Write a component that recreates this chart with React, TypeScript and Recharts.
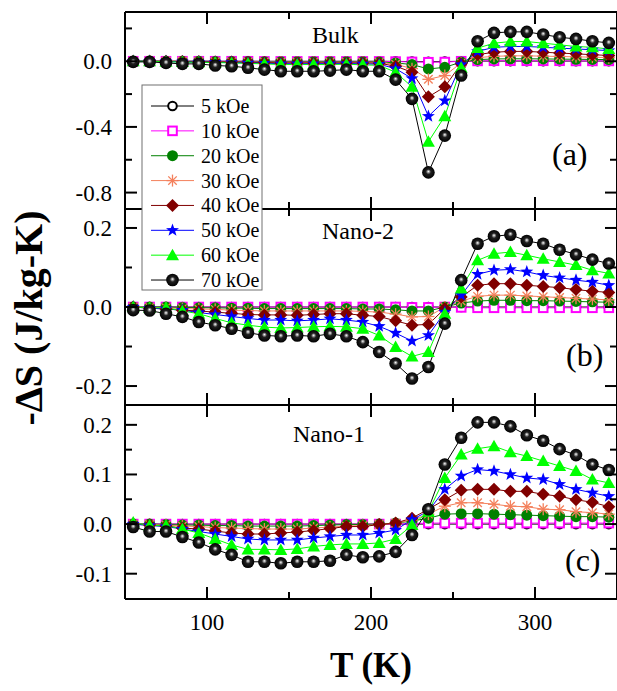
import React from "react";
import { LineChart, Line, XAxis, YAxis } from "recharts";

// temperature grid (K)
const temps = [55, 65, 75, 85, 95, 105, 115, 125, 135, 145, 155, 165, 175, 185, 195, 205, 215, 225, 235, 245, 255, 265, 275, 285, 295, 305, 315, 325, 335, 345];

const fieldLabels = ["5 kOe", "10 kOe", "20 kOe", "30 kOe", "40 kOe", "50 kOe", "60 kOe", "70 kOe"];
const seriesKeys = ["h5", "h10", "h20", "h30", "h40", "h50", "h60", "h70"];
const seriesColors = ["#000000", "#ff00ff", "#008000", "#f4805c", "#800000", "#0000ff", "#00ff00", "#000000"];
const markerKinds = ["open", "square", "dot", "aster", "diamond", "star", "tri", "ball"];

// (a) Bulk
const a5 = [0, 0, 0, 0, 0, 0, 0, 0, 0, 0, 0, 0, 0, 0, 0, 0, -0.001, -0.002, -0.003, -0.002, 0, 0.001, 0.001, 0.001, 0.001, 0.001, 0.001, 0.001, 0.001, 0.001];
const a10 = [0, 0, 0, 0, 0, 0, 0, 0, -0.001, -0.001, -0.001, -0.001, -0.001, -0.001, -0.001, -0.001, -0.002, -0.004, -0.006, -0.005, 0, 0.002, 0.003, 0.003, 0.003, 0.003, 0.003, 0.002, 0.002, 0.002];
const a20 = [0, 0, 0, 0, 0, -0.001, -0.002, -0.002, -0.003, -0.003, -0.003, -0.003, -0.003, -0.003, -0.003, -0.004, -0.01, -0.02, -0.047, -0.037, -0.005, 0.01, 0.014, 0.015, 0.015, 0.014, 0.013, 0.012, 0.011, 0.01];
const a30 = [0, 0, 0, 0, -0.002, -0.003, -0.004, -0.004, -0.005, -0.006, -0.006, -0.006, -0.006, -0.006, -0.006, -0.007, -0.018, -0.045, -0.11, -0.087, -0.01, 0.022, 0.03, 0.033, 0.033, 0.031, 0.029, 0.027, 0.025, 0.022];
const a40 = [0, 0, 0, -0.002, -0.003, -0.004, -0.005, -0.006, -0.008, -0.01, -0.01, -0.01, -0.01, -0.01, -0.01, -0.012, -0.03, -0.067, -0.217, -0.156, -0.015, 0.04, 0.055, 0.06, 0.06, 0.055, 0.05, 0.045, 0.04, 0.035];
const a50 = [0, 0, -0.002, -0.004, -0.005, -0.006, -0.008, -0.01, -0.012, -0.015, -0.015, -0.015, -0.015, -0.014, -0.016, -0.018, -0.045, -0.105, -0.335, -0.24, -0.02, 0.06, 0.085, 0.09, 0.09, 0.085, 0.08, 0.075, 0.07, 0.065];
const a60 = [0, 0, -0.003, -0.005, -0.006, -0.008, -0.01, -0.013, -0.016, -0.02, -0.02, -0.02, -0.02, -0.018, -0.022, -0.025, -0.067, -0.156, -0.49, -0.335, -0.04, 0.08, 0.11, 0.12, 0.12, 0.11, 0.1, 0.09, 0.085, 0.075];
const a70 = [-0.004, -0.004, -0.01, -0.016, -0.016, -0.026, -0.03, -0.04, -0.051, -0.061, -0.061, -0.061, -0.057, -0.051, -0.061, -0.061, -0.112, -0.229, -0.677, -0.453, -0.087, 0.122, 0.173, 0.179, 0.179, 0.163, 0.146, 0.136, 0.122, 0.112];

// (b) Nano-2
const b5 = [0, 0, 0, 0, 0, 0, 0, 0, 0, 0, 0, 0, 0, 0, 0, 0, 0, 0, 0, 0, 0, 0, 0, 0, 0, 0, 0, 0, 0, 0];
const b10 = [0, 0, 0, 0, 0, 0, 0, 0, 0, 0, 0, 0, 0, 0, 0, 0, 0, -0.001, -0.001, 0, -0.001, -0.002, -0.002, -0.002, -0.002, -0.002, -0.002, -0.002, -0.002, -0.002];
const b20 = [0, 0, 0, -0.001, -0.002, -0.002, -0.003, -0.003, -0.004, -0.004, -0.004, -0.004, -0.004, -0.004, -0.005, -0.005, -0.007, -0.01, -0.01, 0, 0.01, 0.015, 0.017, 0.017, 0.016, 0.016, 0.015, 0.014, 0.013, 0.012];
const b30 = [0, -0.001, -0.002, -0.004, -0.005, -0.006, -0.008, -0.009, -0.01, -0.01, -0.01, -0.01, -0.01, -0.01, -0.011, -0.013, -0.018, -0.025, -0.024, 0, 0.015, 0.027, 0.03, 0.03, 0.028, 0.026, 0.024, 0.022, 0.02, 0.018];
const b40 = [0, -0.003, -0.005, -0.008, -0.01, -0.013, -0.016, -0.019, -0.02, -0.02, -0.021, -0.019, -0.017, -0.017, -0.021, -0.024, -0.035, -0.046, -0.044, -0.004, 0.025, 0.055, 0.059, 0.059, 0.055, 0.052, 0.049, 0.044, 0.04, 0.037];
const b50 = [0, -0.003, -0.005, -0.008, -0.014, -0.019, -0.024, -0.029, -0.033, -0.033, -0.035, -0.033, -0.03, -0.033, -0.038, -0.049, -0.066, -0.086, -0.072, -0.013, 0.03, 0.083, 0.093, 0.095, 0.089, 0.08, 0.074, 0.068, 0.063, 0.055];
const b60 = [0, -0.002, -0.002, -0.01, -0.017, -0.029, -0.04, -0.046, -0.051, -0.053, -0.052, -0.05, -0.049, -0.05, -0.055, -0.072, -0.101, -0.125, -0.114, -0.017, 0.047, 0.118, 0.135, 0.139, 0.131, 0.122, 0.114, 0.106, 0.093, 0.085];
const b70 = [-0.008, -0.009, -0.017, -0.025, -0.038, -0.046, -0.055, -0.065, -0.072, -0.074, -0.072, -0.074, -0.068, -0.074, -0.089, -0.114, -0.143, -0.181, -0.152, -0.042, 0.068, 0.16, 0.179, 0.183, 0.167, 0.16, 0.145, 0.133, 0.12, 0.11];

// (c) Nano-1
const c5 = [0, 0, 0, 0, 0, 0, 0, 0, 0, 0, 0, 0, 0, 0, 0, 0, 0, 0, 0, 0, 0, 0, 0, 0, 0, 0, 0, 0, 0, 0];
const c10 = [0, 0, 0, 0, 0, 0, 0, 0, 0, 0, 0, 0, 0, 0, 0, 0, 0, 0.001, 0.002, 0.002, 0.002, 0.002, 0.002, 0.002, 0.002, 0.002, 0.002, 0.002, 0.002, 0.002];
const c20 = [0, 0, -0.001, -0.002, -0.002, -0.003, -0.003, -0.004, -0.004, -0.004, -0.004, -0.003, -0.002, -0.001, -0.001, 0, 0.002, 0.006, 0.012, 0.02, 0.021, 0.021, 0.02, 0.019, 0.018, 0.017, 0.016, 0.015, 0.015, 0.014];
const c30 = [0, -0.001, -0.002, -0.004, -0.005, -0.007, -0.008, -0.009, -0.01, -0.01, -0.01, -0.008, -0.006, -0.004, -0.003, -0.001, 0.002, 0.008, 0.02, 0.036, 0.043, 0.043, 0.04, 0.036, 0.035, 0.03, 0.029, 0.025, 0.023, 0.02];
const c40 = [0, -0.002, -0.004, -0.008, -0.01, -0.014, -0.018, -0.02, -0.02, -0.018, -0.016, -0.013, -0.009, -0.005, -0.005, -0.001, 0.002, 0.012, 0.03, 0.049, 0.068, 0.07, 0.07, 0.066, 0.066, 0.06, 0.056, 0.049, 0.044, 0.035];
const c50 = [0, -0.003, -0.005, -0.01, -0.015, -0.02, -0.025, -0.03, -0.032, -0.032, -0.032, -0.028, -0.025, -0.022, -0.022, -0.018, -0.012, 0.009, 0.026, 0.07, 0.097, 0.11, 0.107, 0.1, 0.093, 0.09, 0.08, 0.07, 0.063, 0.056];
const c60 = [0.003, -0.003, -0.003, -0.01, -0.018, -0.03, -0.042, -0.051, -0.051, -0.052, -0.05, -0.045, -0.042, -0.04, -0.04, -0.038, -0.03, -0.002, 0.025, 0.093, 0.14, 0.152, 0.157, 0.145, 0.137, 0.127, 0.117, 0.107, 0.09, 0.083];
const c70 = [-0.006, -0.015, -0.015, -0.026, -0.037, -0.051, -0.062, -0.076, -0.076, -0.079, -0.076, -0.076, -0.074, -0.062, -0.067, -0.065, -0.056, -0.022, 0.03, 0.12, 0.174, 0.205, 0.205, 0.197, 0.179, 0.168, 0.151, 0.139, 0.12, 0.109];

const xTicks = [100, 150, 200, 250, 300];
const xMajors = [100, 200, 300];

const serif = "Liberation Serif";

function buildRows(cols: number[][]) {
  return temps.map((t, i) => {
    const r: any = { T: t };
    seriesKeys.forEach((k, j) => (r[k] = cols[j][i]));
    return r;
  });
}

const panels = [
  { rows: buildRows([a5, a10, a20, a30, a40, a50, a60, a70]), domain: [-0.9, 0.3], ticks: [-0.8, -0.6, -0.4, -0.2, 0, 0.2], majors: [-0.8, -0.4, 0], top: 12, bottom: 209, showX: false },
  { rows: buildRows([b5, b10, b20, b30, b40, b50, b60, b70]), domain: [-0.248, 0.248], ticks: [-0.2, -0.1, 0, 0.1, 0.2], majors: [-0.2, 0, 0.2], top: 209, bottom: 405, showX: false },
  { rows: buildRows([c5, c10, c20, c30, c40, c50, c60, c70]), domain: [-0.151, 0.24], ticks: [-0.1, -0.05, 0, 0.05, 0.1, 0.15, 0.2], majors: [-0.1, 0, 0.1, 0.2], top: 405, bottom: 599, showX: true },
];

function Marker({ kind, cx, cy, color }: { kind: string; cx: number; cy: number; color: string }) {
  switch (kind) {
    case "open":
      return <circle cx={cx} cy={cy} r={4.3} fill="#fff" stroke={color} strokeWidth={2} />;
    case "square":
      return <rect x={cx - 4.3} y={cy - 4.3} width={8.6} height={8.6} fill="#fff" stroke={color} strokeWidth={2} />;
    case "dot":
      return <circle cx={cx} cy={cy} r={5.5} fill={color} />;
    case "aster": {
      const r = 6;
      const d = r * 0.707;
      return (
        <g stroke={color} strokeWidth={1.3}>
          <line x1={cx - r} y1={cy} x2={cx + r} y2={cy} />
          <line x1={cx} y1={cy - r} x2={cx} y2={cy + r} />
          <line x1={cx - d} y1={cy - d} x2={cx + d} y2={cy + d} />
          <line x1={cx - d} y1={cy + d} x2={cx + d} y2={cy - d} />
        </g>
      );
    }
    case "diamond":
      return <polygon points={`${cx},${cy - 6.5} ${cx + 6.5},${cy} ${cx},${cy + 6.5} ${cx - 6.5},${cy}`} fill={color} />;
    case "star": {
      const pts: string[] = [];
      for (let k = 0; k < 10; k++) {
        const a = ((-90 + 36 * k) * Math.PI) / 180;
        const rr = k % 2 === 0 ? 6.8 : 2.8;
        pts.push(`${cx + rr * Math.cos(a)},${cy + rr * Math.sin(a)}`);
      }
      return <polygon points={pts.join(" ")} fill={color} />;
    }
    case "tri":
      return <polygon points={`${cx},${cy - 6.5} ${cx + 6.5},${cy + 5} ${cx - 6.5},${cy + 5}`} fill={color} />;
    case "ball":
      return <circle cx={cx} cy={cy} r={6.3} fill="url(#ballFill)" />;
    default:
      return null;
  }
}

function Tick(props: any) {
  const { x, y, payload, side, majors, label, fmt } = props;
  const v = payload.value;
  const major = majors.some((m: number) => Math.abs(m - v) < 1e-9);
  const len = major ? 12 : 7;
  let x2 = x;
  let y2 = y;
  if (side === "left") x2 = x + len;
  else if (side === "right") x2 = x - len;
  else if (side === "bottom") y2 = y - len;
  else y2 = y + len;
  return (
    <g>
      <line x1={x} y1={y} x2={x2} y2={y2} stroke="#000" strokeWidth={2} />
      {label && major && side === "left" && (
        <text x={x - 13} y={y + 8} textAnchor="end" fontFamily={serif} fontSize={23} fill="#000">
          {fmt(v)}
        </text>
      )}
      {label && major && side === "bottom" && (
        <text x={x} y={y + 31} textAnchor="middle" fontFamily={serif} fontSize={23} fill="#000">
          {fmt(v)}
        </text>
      )}
    </g>
  );
}

const axisStyle = { stroke: "#000", strokeWidth: 2 };

function Panel({ p }: { p: (typeof panels)[number] }) {
  return (
    <div style={{ position: "absolute", left: 0, top: 0 }}>
      <LineChart width={617} height={691} data={p.rows} margin={{ top: p.top - 1, bottom: 691 - p.bottom - 1, left: 124, right: -1 }}>
        <XAxis xAxisId="b" dataKey="T" type="number" domain={[50, 350]} allowDataOverflow ticks={xTicks} interval={0} height={1} tickSize={0} tickMargin={0} axisLine={axisStyle} tickLine={false}
          tick={<Tick side="bottom" majors={xMajors} label={p.showX} fmt={(v: number) => String(v)} />} />
        <XAxis xAxisId="t" orientation="top" dataKey="T" type="number" domain={[50, 350]} allowDataOverflow ticks={xTicks} interval={0} height={1} tickSize={0} tickMargin={0} axisLine={axisStyle} tickLine={false}
          tick={<Tick side="top" majors={xMajors} label={false} />} />
        <YAxis yAxisId="l" type="number" domain={p.domain} allowDataOverflow ticks={p.ticks} interval={0} width={1} tickSize={0} tickMargin={0} axisLine={axisStyle} tickLine={false}
          tick={<Tick side="left" majors={p.majors} label fmt={(v: number) => v.toFixed(1)} />} />
        <YAxis yAxisId="r" orientation="right" dataKey="h70" type="number" domain={p.domain} allowDataOverflow ticks={p.ticks} interval={0} width={1} tickSize={0} tickMargin={0} axisLine={axisStyle} tickLine={false}
          tick={<Tick side="right" majors={p.majors} label={false} />} />
        {seriesKeys.map((k, j) => (
          <Line key={k} xAxisId="b" yAxisId="l" dataKey={k} stroke={seriesColors[j]} strokeWidth={1} isAnimationActive={false}
            dot={(d: any) => <Marker key={`${k}-${d.index}`} kind={markerKinds[j]} cx={d.cx} cy={d.cy} color={seriesColors[j]} />}
            activeDot={false} />
        ))}
      </LineChart>
    </div>
  );
}

export default function App() {
  const legendY = (i: number) => 106 + i * 24.86;
  return (
    <div style={{ position: "absolute", left: 0, top: 0, width: 617, height: 691, background: "#fff", overflow: "hidden" }}>
      {panels.map((p, i) => (
        <Panel key={i} p={p} />
      ))}
      <svg width={617} height={691} style={{ position: "absolute", left: 0, top: 0, pointerEvents: "none" }}>
        <defs>
          <radialGradient id="ballFill" cx="0.5" cy="0.5" r="0.5" fx="0.5" fy="0.42">
            <stop offset="0" stopColor="#ffffff" />
            <stop offset="0.14" stopColor="#b0b0b0" />
            <stop offset="0.4" stopColor="#202020" />
            <stop offset="1" stopColor="#000000" />
          </radialGradient>
        </defs>
        <text x={312} y={43} fontSize={24} fontFamily={serif} fill="#000">Bulk</text>
        <text x={322} y={239} fontSize={24} fontFamily={serif} fill="#000">Nano-2</text>
        <text x={293} y={442} fontSize={24} fontFamily={serif} fill="#000">Nano-1</text>
        <text x={552} y={165} fontSize={32} fontFamily={serif} fill="#000">(a)</text>
        <text x={566} y={366} fontSize={32} fontFamily={serif} fill="#000">(b)</text>
        <text x={565} y={571} fontSize={32} fontFamily={serif} fill="#000">(c)</text>
        <text x={371} y={677} fontSize={35} fontFamily={serif} fontWeight="bold" textAnchor="middle" fill="#000">T (K)</text>
        <text transform="translate(42,318) rotate(-90)" fontSize={40} fontFamily={serif} fontWeight="bold" textAnchor="middle" fill="#000">-ΔS (J/kg-K)</text>
        <rect x={142} y={85} width={120} height={205} fill="#fff" stroke="#707070" strokeWidth={1} />
        {fieldLabels.map((lab, i) => (
          <g key={lab}>
            <line x1={151} y1={legendY(i)} x2={194} y2={legendY(i)} stroke={seriesColors[i]} strokeWidth={1} />
            <Marker kind={markerKinds[i]} cx={172.5} cy={legendY(i)} color={seriesColors[i]} />
            <text x={201} y={legendY(i) + 7} fontSize={20} fontFamily={serif} fill="#000">{lab}</text>
          </g>
        ))}
      </svg>
    </div>
  );
}
